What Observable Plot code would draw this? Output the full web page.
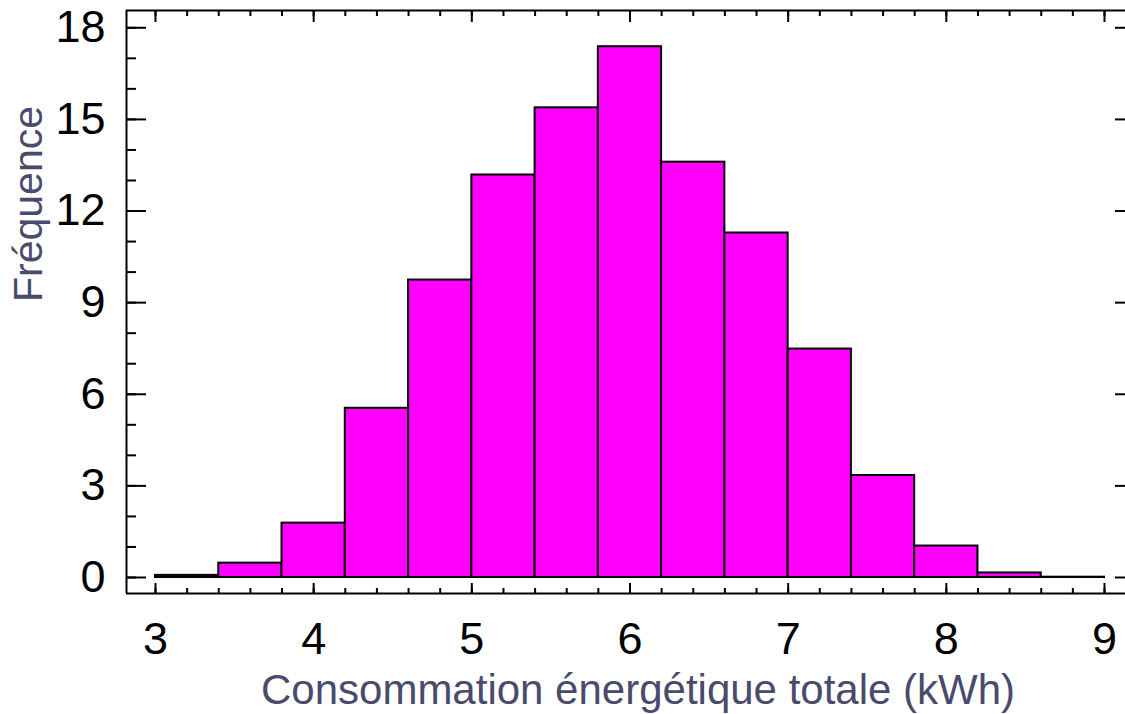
<!DOCTYPE html>
<html><head><meta charset="utf-8">
<script src="https://cdn.jsdelivr.net/npm/d3@7"></script>
<script src="https://cdn.jsdelivr.net/npm/@observablehq/plot@0.6"></script>
<style>body{margin:0;background:#fff} svg{display:block}</style>
</head><body><div id="chart"></div>
<script>
// Data
const binStarts = [3.0, 3.4, 3.8, 4.2, 4.6, 5.0, 5.4, 5.8, 6.2, 6.6, 7.0, 7.4, 7.8, 8.2, 8.6];
const binWidth = 0.4;
const frequencies = [0.07, 0.47, 1.78, 5.54, 9.74, 13.18, 15.38, 17.38, 13.6, 11.28, 7.48, 3.34, 1.03, 0.15, 0.01];
const xTickValues = [3, 4, 5, 6, 7, 8, 9];
const yTickValues = [0, 3, 6, 9, 12, 15, 18];
const xTitle = "Consommation énergétique totale (kWh)";
const yTitle = "Fréquence";

const bins = binStarts.map((s, i) => ({x1: s, x2: s + binWidth, y: frequencies[i]}));
const xMinor = d3.range(31).map(i => 3 + i * 0.2);
const yMinor = d3.range(19);

const W = 1125, H = 714, mL = 126, mR = 0, mT = 10, mB = 121;
const pW = W - mL - mR, pH = H - mT - mB;
const xDomain = [2.8167, 9.1328];
const yDomain = [-0.524, 18.566];
const titleColor = "#4a4a6c";
const tickFont = 45;

const chart = Plot.plot({
  width: W, height: H,
  marginLeft: mL, marginRight: mR, marginTop: mT, marginBottom: mB,
  style: {fontFamily: "'Liberation Sans', Arial, sans-serif", background: "#fff", color: "black"},
  x: {domain: xDomain, axis: null},
  y: {domain: yDomain, axis: null},
  marks: [
    Plot.rectY(bins, {x1: "x1", x2: "x2", y: "y", fill: "#ff00ff", stroke: "black", strokeWidth: 2}),
    // frame (top, left, bottom)
    Plot.ruleY([yDomain[0]], {stroke: "black", strokeWidth: 2}),
    Plot.ruleY([yDomain[1]], {stroke: "black", strokeWidth: 2}),
    Plot.ruleX([xDomain[0]], {stroke: "black", strokeWidth: 2}),
    // inward ticks: bottom
    Plot.tickX(xMinor, {x: d => d, stroke: "black", strokeWidth: 2, insetTop: pH - 5}),
    Plot.tickX(xTickValues, {x: d => d, stroke: "black", strokeWidth: 2, insetTop: pH - 10}),
    // top
    Plot.tickX(xMinor, {x: d => d, stroke: "black", strokeWidth: 2, insetBottom: pH - 6}),
    Plot.tickX(xTickValues, {x: d => d, stroke: "black", strokeWidth: 2, insetBottom: pH - 12}),
    // left
    Plot.tickY(yMinor, {y: d => d, stroke: "black", strokeWidth: 2, insetRight: pW - 10}),
    Plot.tickY(yTickValues, {y: d => d, stroke: "black", strokeWidth: 2, insetRight: pW - 20}),
    // right
    Plot.tickY(yTickValues, {y: d => d, stroke: "black", strokeWidth: 2, insetLeft: pW - 10}),
    // tick labels
    Plot.text(xTickValues, {x: d => d, text: d => String(d), frameAnchor: "bottom", lineAnchor: "top", dy: 29, fontSize: tickFont, fill: "black"}),
    Plot.text(yTickValues, {y: d => d, text: d => String(d), frameAnchor: "left", textAnchor: "end", lineAnchor: "middle", dx: -21, fontSize: tickFont, fill: "black"}),
    // titles
    Plot.text([xTitle], {text: d => d, frameAnchor: "bottom", lineAnchor: "middle", dx: 12, dy: 97, fontSize: 42, fill: titleColor}),
    Plot.text([yTitle], {text: d => d, frameAnchor: "left", lineAnchor: "middle", rotate: -90, dx: -98, fontSize: 41, fill: titleColor})
  ]
});
document.getElementById("chart").appendChild(chart);
</script>
</body></html>
